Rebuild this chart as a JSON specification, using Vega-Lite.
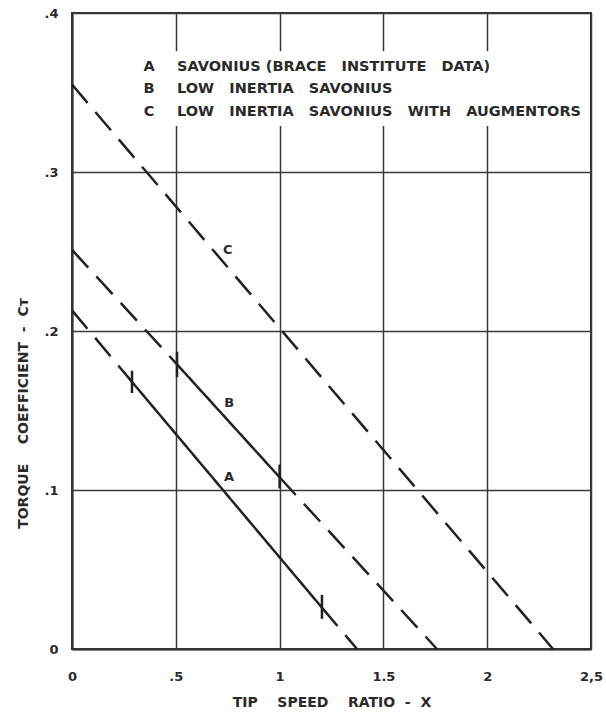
{
  "$schema": "https://vega.github.io/schema/vega-lite/v6.json",
  "width": 519,
  "height": 636,
  "autosize": "none",
  "padding": {"left": 72, "top": 13, "right": 15, "bottom": 64},
  "background": "white",
  "config": {
    "view": {"stroke": "#333333", "strokeWidth": 2},
    "font": "DejaVu Sans",
    "axis": {
      "labelFont": "DejaVu Sans", "labelFontWeight": 700, "labelFontSize": 13, "labelColor": "#2a2a2a",
      "titleFont": "DejaVu Sans", "titleFontWeight": 700, "titleFontSize": 14, "titleColor": "#2a2a2a",
      "gridColor": "#3a3a3a", "gridWidth": 1.5, "gridOpacity": 1,
      "domainColor": "#333333", "domainWidth": 2, "ticks": false
    }
  },
  "datasets": {
    "lines": [
      {"curve": "A", "seg": "A1", "style": "dashed", "x": 0, "y": 0.213},
      {"curve": "A", "seg": "A1", "style": "dashed", "x": 0.289, "y": 0.168},
      {"curve": "A", "seg": "A2", "style": "solid", "x": 0.289, "y": 0.168},
      {"curve": "A", "seg": "A2", "style": "solid", "x": 1.204, "y": 0.026},
      {"curve": "A", "seg": "A3", "style": "dashed", "x": 1.204, "y": 0.026},
      {"curve": "A", "seg": "A3", "style": "dashed", "x": 1.373, "y": 0},
      {"curve": "B", "seg": "B1", "style": "dashed", "x": 0, "y": 0.251},
      {"curve": "B", "seg": "B1", "style": "dashed", "x": 0.506, "y": 0.179},
      {"curve": "B", "seg": "B2", "style": "solid", "x": 0.506, "y": 0.179},
      {"curve": "B", "seg": "B2", "style": "solid", "x": 1.0, "y": 0.108},
      {"curve": "B", "seg": "B3", "style": "dashed", "x": 1.0, "y": 0.108},
      {"curve": "B", "seg": "B3", "style": "dashed", "x": 1.758, "y": 0},
      {"curve": "C", "seg": "C1", "style": "dashed", "x": 0, "y": 0.355},
      {"curve": "C", "seg": "C1", "style": "dashed", "x": 2.317, "y": 0}
    ],
    "ticks": [
      {"x": 0.289, "y1": 0.161, "y2": 0.175},
      {"x": 1.204, "y1": 0.019, "y2": 0.034},
      {"x": 0.506, "y1": 0.171, "y2": 0.187},
      {"x": 1.0, "y1": 0.101, "y2": 0.116}
    ],
    "curveLabels": [
      {"label": "A", "x": 0.757, "y": 0.108},
      {"label": "B", "x": 0.757, "y": 0.155},
      {"label": "C", "x": 0.75, "y": 0.251}
    ],
    "legendBox": [
      {"x1": 0.31, "x2": 2.49, "y1": 0.329, "y2": 0.376}
    ],
    "legendRows": [
      {"key": "A", "text": "SAVONIUS (BRACE \u00a0\u00a0INSTITUTE \u00a0\u00a0DATA)", "y": 0.366},
      {"key": "B", "text": "LOW \u00a0\u00a0INERTIA \u00a0\u00a0SAVONIUS", "y": 0.352},
      {"key": "C", "text": "LOW \u00a0\u00a0INERTIA \u00a0\u00a0SAVONIUS \u00a0\u00a0WITH \u00a0\u00a0AUGMENTORS", "y": 0.338}
    ]
  },
  "layer": [
    {
      "data": {"name": "legendBox"},
      "mark": {"type": "rect", "fill": "white", "stroke": null},
      "encoding": {
        "x": {"field": "x1", "type": "quantitative",
              "scale": {"domain": [0, 2.5], "nice": false, "zero": false},
              "axis": {"values": [0, 0.5, 1, 1.5, 2, 2.5],
                       "labelExpr": "datum.value == 0.5 ? '.5' : datum.value == 2.5 ? '2,5' : toString(datum.value)",
                       "labelPadding": 21, "title": "TIP \u00a0\u00a0\u00a0SPEED \u00a0\u00a0\u00a0RATIO \u00a0-\u00a0 X", "titlePadding": 12,
                       "labelFlush": false}},
        "x2": {"field": "x2"},
        "y": {"field": "y1", "type": "quantitative",
              "scale": {"domain": [0, 0.4], "nice": false, "zero": false},
              "axis": {"values": [0, 0.1, 0.2, 0.3, 0.4],
                       "labelExpr": "datum.value == 0 ? '0' : replace(format(datum.value, '.1f'), '0.', '.')",
                       "labelPadding": 14, "title": "TORQUE \u00a0\u00a0\u00a0COEFFICIENT \u00a0-\u00a0 Cᴛ", "titlePadding": 14,
                       "titleY": 400,
                       "labelFlush": false}},
        "y2": {"field": "y2"}
      }
    },
    {
      "data": {"name": "lines"},
      "mark": {"type": "line", "color": "#222222", "strokeWidth": 2.5, "strokeCap": "butt"},
      "encoding": {
        "x": {"field": "x", "type": "quantitative"},
        "y": {"field": "y", "type": "quantitative"},
        "detail": {"field": "seg"},
        "strokeDash": {"field": "style", "type": "nominal",
                       "scale": {"domain": ["solid", "dashed"], "range": [[1, 0], [24, 12]]},
                       "legend": null},
        "order": {"field": "x", "type": "quantitative"}
      }
    },
    {
      "data": {"name": "ticks"},
      "mark": {"type": "rule", "color": "#222222", "strokeWidth": 2.5},
      "encoding": {
        "x": {"field": "x", "type": "quantitative"},
        "y": {"field": "y1", "type": "quantitative"},
        "y2": {"field": "y2"}
      }
    },
    {
      "data": {"name": "curveLabels"},
      "mark": {"type": "text", "font": "DejaVu Sans", "fontWeight": 700, "fontSize": 13, "color": "#2a2a2a"},
      "encoding": {
        "x": {"field": "x", "type": "quantitative"},
        "y": {"field": "y", "type": "quantitative"},
        "text": {"field": "label"}
      }
    },
    {
      "data": {"name": "legendRows"},
      "mark": {"type": "text", "font": "DejaVu Sans", "fontWeight": 700, "fontSize": 14.5, "color": "#2a2a2a", "align": "center"},
      "encoding": {
        "x": {"datum": 0.371, "type": "quantitative"},
        "y": {"field": "y", "type": "quantitative"},
        "text": {"field": "key"}
      }
    },
    {
      "data": {"name": "legendRows"},
      "mark": {"type": "text", "font": "DejaVu Sans", "fontWeight": 700, "fontSize": 14.5, "color": "#2a2a2a", "align": "left"},
      "encoding": {
        "x": {"datum": 0.506, "type": "quantitative"},
        "y": {"field": "y", "type": "quantitative"},
        "text": {"field": "text"}
      }
    }
  ]
}
